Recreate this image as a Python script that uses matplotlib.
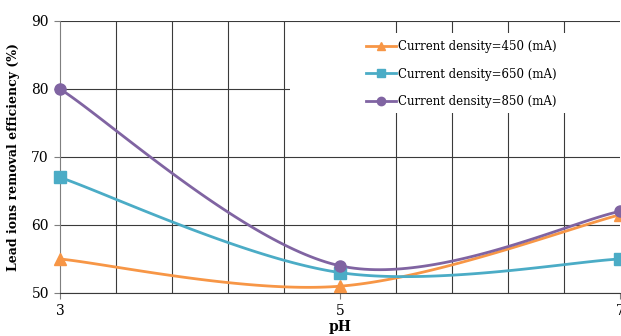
import matplotlib.pyplot as plt
import numpy as np
from matplotlib.patches import Rectangle

ph = [3, 5, 7]
cd450 = [55, 51, 61.5]
cd650 = [67, 53, 55]
cd850 = [80, 54, 62]
labels = ["Current density=450 (mA)", "Current density=650 (mA)", "Current density=850 (mA)"]
colors = ["#F79646", "#4BACC6", "#8064A2"]
markers = ["^", "s", "o"]


def smooth(xs, ys, n=60):
    # Excel-like smoothed line (Catmull-Rom through the points)
    p = np.column_stack([xs, ys]).astype(float)
    ext = np.vstack([p[0], p, p[-1]])
    out = []
    t = np.linspace(0, 1, n)[:, None]
    for i in range(len(p) - 1):
        p0, p1, p2, p3 = ext[i], ext[i + 1], ext[i + 2], ext[i + 3]
        c1 = p1 + (p2 - p0) / 6
        c2 = p2 - (p3 - p1) / 6
        seg = ((1 - t) ** 3) * p1 + 3 * ((1 - t) ** 2) * t * c1 + 3 * (1 - t) * t ** 2 * c2 + t ** 3 * p2
        out.append(seg)
    out = np.vstack(out)
    return out[:, 0], out[:, 1]


plt.rcParams['font.family'] = ['DejaVu Serif']
fig = plt.figure(figsize=(6.21, 3.36), dpi=100)
ax = fig.add_axes([60 / 621, 1 - 293 / 336, 560 / 621, 272 / 336])

for ys, lab, c, m in zip([cd450, cd650, cd850], labels, colors, markers):
    sx, sy = smooth(ph, ys)
    ax.plot(sx, sy, color=c, lw=2, zorder=3)
    ax.plot(ph, ys, ls='none', marker=m, color=c, ms=8, zorder=4, clip_on=False)
    ax.plot([], [], color=c, lw=2, marker=m, ms=6, label=lab)

ax.set_xlim(3, 7)
ax.set_ylim(50, 90)
ax.set_xticks([3, 5, 7])
ax.set_xticks(np.arange(3, 7.01, 0.4), minor=True)
ax.set_yticks([50, 60, 70, 80, 90])
ax.grid(True, which='minor', axis='x', color='#3a3a3a', lw=0.8)
ax.grid(True, which='major', axis='y', color='#3a3a3a', lw=0.8)
ax.tick_params(which='minor', length=0)
ax.tick_params(which='major', length=4, color='#7f7f7f', labelsize=10, pad=4)
ax.set_axisbelow(True)
for s in ['top', 'right']:
    ax.spines[s].set_visible(False)
ax.spines['left'].set_color('#7f7f7f')
ax.spines['bottom'].set_color('#3a3a3a')

ax.add_patch(Rectangle((0.411, 0.662), 0.6, 0.294, transform=ax.transAxes,
                       facecolor='white', edgecolor='none', zorder=1.5, clip_on=False))
ax.legend(loc='upper left', bbox_to_anchor=(0.527, 0.97), frameon=False,
          fontsize=8.5, handlelength=2.6, labelspacing=1.25, handletextpad=0.15)

ax.set_xlabel("pH", fontsize=10, fontweight='bold', labelpad=1)
ax.set_ylabel("Lead ions removal efficiency (%)", fontsize=9, fontweight='bold', labelpad=8)

fig.savefig("out.png", dpi=100)
